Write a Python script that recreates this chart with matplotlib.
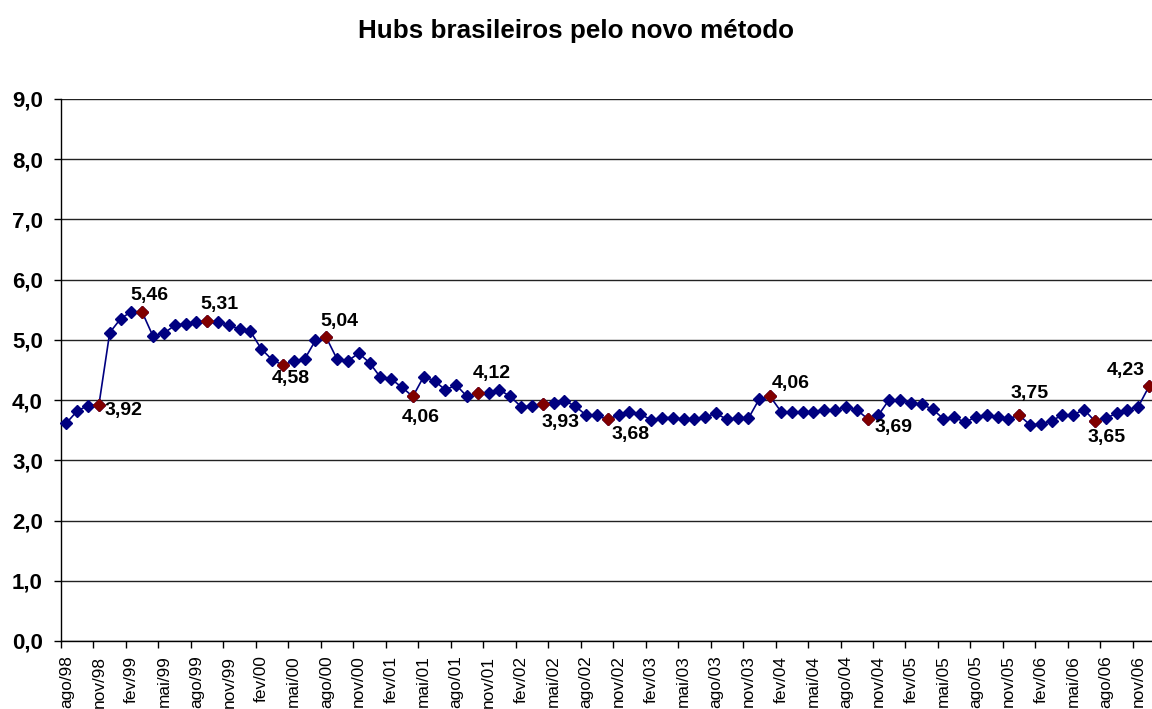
import matplotlib
matplotlib.use("Agg")
import matplotlib.pyplot as plt
from matplotlib.ticker import FixedLocator, FuncFormatter

plt.rcParams['font.family'] = ['Liberation Sans', 'DejaVu Sans']

title = "Hubs brasileiros pelo novo método"

# monthly values, ago/98 .. dez/06
values = [3.62, 3.82, 3.91, 3.92, 5.12, 5.35, 5.47, 5.46, 5.06, 5.11,
          5.24, 5.27, 5.30, 5.31, 5.30, 5.24, 5.18, 5.14, 4.85, 4.67,
          4.58, 4.65, 4.68, 4.99, 5.04, 4.68, 4.65, 4.78, 4.62, 4.38,
          4.35, 4.21, 4.06, 4.39, 4.32, 4.17, 4.25, 4.06, 4.12, 4.11,
          4.17, 4.06, 3.89, 3.90, 3.93, 3.96, 3.99, 3.90, 3.75, 3.75,
          3.68, 3.75, 3.81, 3.77, 3.67, 3.71, 3.71, 3.68, 3.68, 3.72,
          3.78, 3.68, 3.70, 3.70, 4.02, 4.06, 3.81, 3.80, 3.80, 3.81,
          3.84, 3.84, 3.88, 3.84, 3.69, 3.75, 4.01, 4.00, 3.95, 3.93,
          3.85, 3.69, 3.72, 3.63, 3.72, 3.76, 3.72, 3.69, 3.75, 3.59,
          3.60, 3.66, 3.75, 3.76, 3.84, 3.65, 3.70, 3.78, 3.84, 3.89, 4.23]

# highlighted (labelled) points
highlight = [3, 7, 13, 20, 24, 32, 38, 44, 50, 65, 74, 88, 95, 100]

tick_labels = ["ago/98", "nov/98",
               "fev/99", "mai/99", "ago/99", "nov/99",
               "fev/00", "mai/00", "ago/00", "nov/00",
               "fev/01", "mai/01", "ago/01", "nov/01",
               "fev/02", "mai/02", "ago/02", "nov/02",
               "fev/03", "mai/03", "ago/03", "nov/03",
               "fev/04", "mai/04", "ago/04", "nov/04",
               "fev/05", "mai/05", "ago/05", "nov/05",
               "fev/06", "mai/06", "ago/06", "nov/06"]

# label offsets in pixels (dx, dy up) for each highlighted point
label_offsets = [(25, -6), (7, 17), (12, 17), (8, -13), (13, 16), (8, -21),
                 (14, 19), (18, -18), (23, -15), (21, 13), (26, -9),
                 (10, 22), (12, -16), (-23, 16)]

W, H = 1152, 709
fig = plt.figure(figsize=(W / 100, H / 100), dpi=100)
ax = fig.add_axes([61 / W, (H - 641) / H, 1093.5 / W, 542 / H])

x = list(range(len(values)))
navy = "#000080"
dark_red = "#800000"

ax.plot(x, values, color=navy, lw=1.2, marker="D", ms=6.5,
        mfc=navy, mec=navy, zorder=3, clip_on=False)
ax.plot([x[i] for i in highlight], [values[i] for i in highlight],
        ls="none", marker="D", ms=6.5, mfc=dark_red, mec=dark_red,
        zorder=4, clip_on=False)

for i, (dx, dy) in zip(highlight, label_offsets):
    ax.annotate(f"{values[i]:.2f}".replace(".", ","), (x[i], values[i]),
                xytext=(dx, dy), textcoords="offset pixels",
                ha="center", va="center", fontsize=14, fontweight="bold",
                color="black", zorder=5, annotation_clip=False)

ax.set_xlim(-0.5, 100.5)
ax.set_ylim(0, 9)

ax.set_yticks([k for k in range(10)])
ax.yaxis.set_major_formatter(FuncFormatter(lambda v, p: f"{v:.1f}".replace(".", ",")))
for lab in ax.get_yticklabels():
    lab.set_fontweight("bold")
ax.tick_params(axis="y", labelsize=16, length=5, width=1, pad=8, direction="out")
ax.grid(axis="y", color="#222222", lw=1)
ax.set_axisbelow(True)

major = [3 * k for k in range(len(tick_labels))]
ax.xaxis.set_major_locator(FixedLocator(major))
ax.set_xticklabels(tick_labels, rotation=90, fontsize=12.4)
ax.xaxis.set_minor_locator(FixedLocator([m - 0.5 for m in major]))
ax.tick_params(axis="x", which="major", length=0, pad=10.5)
ax.tick_params(axis="x", which="minor", length=5, width=1, direction="out")

for s in ["top", "right"]:
    ax.spines[s].set_visible(False)
ax.spines["left"].set_linewidth(1)
ax.spines["bottom"].set_linewidth(1)

fig.text(0.5, 1 - 31 / H, title, ha="center", va="center",
         fontsize=18.7, fontweight="bold")

fig.savefig("out.png", dpi=100)
